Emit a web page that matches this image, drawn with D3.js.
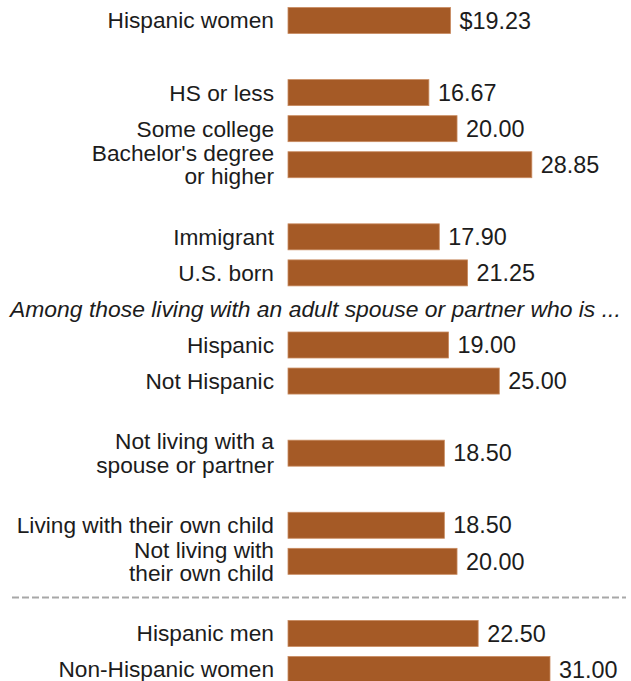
<!DOCTYPE html>
<html>
<head>
<meta charset="utf-8">
<script src="https://cdn.jsdelivr.net/npm/d3@7"></script>
<style>
  html, body { margin: 0; padding: 0; background: #fff; }
  svg { display: block; }
  text { font-family: "Liberation Sans", Arial, sans-serif; fill: #1c1c1c; }
</style>
</head>
<body>
<svg id="chart" width="631" height="681"></svg>
<script>
// Median hourly earnings of Hispanic women, by characteristic
const categories = [
  "Hispanic women",
  "HS or less", "Some college", "Bachelor's degree\nor higher",
  "Immigrant", "U.S. born",
  "Hispanic", "Not Hispanic",
  "Not living with a\nspouse or partner",
  "Living with their own child", "Not living with\ntheir own child",
  "Hispanic men", "Non-Hispanic women"
];
const values = [19.23, 16.67, 20.00, 28.85, 17.90, 21.25, 19.00, 25.00, 18.50, 18.50, 20.00, 22.50, 31.00];
const valueLabels = ["$19.23", "16.67", "20.00", "28.85", "17.90", "21.25", "19.00", "25.00", "18.50", "18.50", "20.00", "22.50", "31.00"];
const subheading = "Among those living with an adult spouse or partner who is ...";

// Row order, with spacer slots between groups, a subheading slot and a divider slot
const rowOrder = [
  categories[0], "gap-1",
  categories[1], categories[2], categories[3], "gap-2",
  categories[4], categories[5], "subheading",
  categories[6], categories[7], "gap-3",
  categories[8], "gap-4",
  categories[9], categories[10], "divider",
  categories[11], categories[12]
];

const svg = d3.select("#chart");

const x = d3.scaleLinear().domain([0, 31]).range([288, 550]);
const y = d3.scalePoint().domain(rowOrder).range([20.5, 669.5]);
const barH = 26;
const labelSize = 22.7;
const valueSize = 23.4;
const subSize = 22.9;
const lineGap = 23.5;

const data = categories.map((c, i) => ({ cat: c, value: values[i], label: valueLabels[i] }));

// Bars
svg.append("g").selectAll("rect")
  .data(data)
  .join("rect")
  .attr("x", x(0))
  .attr("y", d => y(d.cat) - barH / 2)
  .attr("width", d => x(d.value) - x(0))
  .attr("height", barH)
  .attr("fill", "#a55a26")
  .attr("stroke", "#c98b60")
  .attr("stroke-width", 0.8);

// Category labels (right-aligned, possibly two lines)
const catG = svg.append("g");
data.forEach(d => {
  const lines = d.cat.split("\n");
  const t = catG.append("text")
    .attr("text-anchor", "end")
    .attr("font-size", labelSize);
  lines.forEach((ln, j) => {
    t.append("tspan")
      .attr("x", 274)
      .attr("y", y(d.cat) + (j - (lines.length - 1) / 2) * lineGap + labelSize * 0.35)
      .text(ln);
  });
});

// Value labels
svg.append("g").selectAll("text")
  .data(data)
  .join("text")
  .attr("x", d => x(d.value) + 9)
  .attr("y", d => y(d.cat) + valueSize * 0.35)
  .attr("font-size", valueSize)
  .text(d => d.label);

// Subheading
svg.append("text")
  .attr("x", 10)
  .attr("y", y("subheading") + subSize * 0.35)
  .attr("font-size", subSize)
  .attr("font-style", "italic")
  .text(subheading);

// Divider
svg.append("line")
  .attr("x1", 12).attr("x2", 626)
  .attr("y1", y("divider")).attr("y2", y("divider"))
  .attr("stroke", "#a8a8a8")
  .attr("stroke-width", 2)
  .attr("stroke-dasharray", "7,3");
</script>
</body>
</html>
